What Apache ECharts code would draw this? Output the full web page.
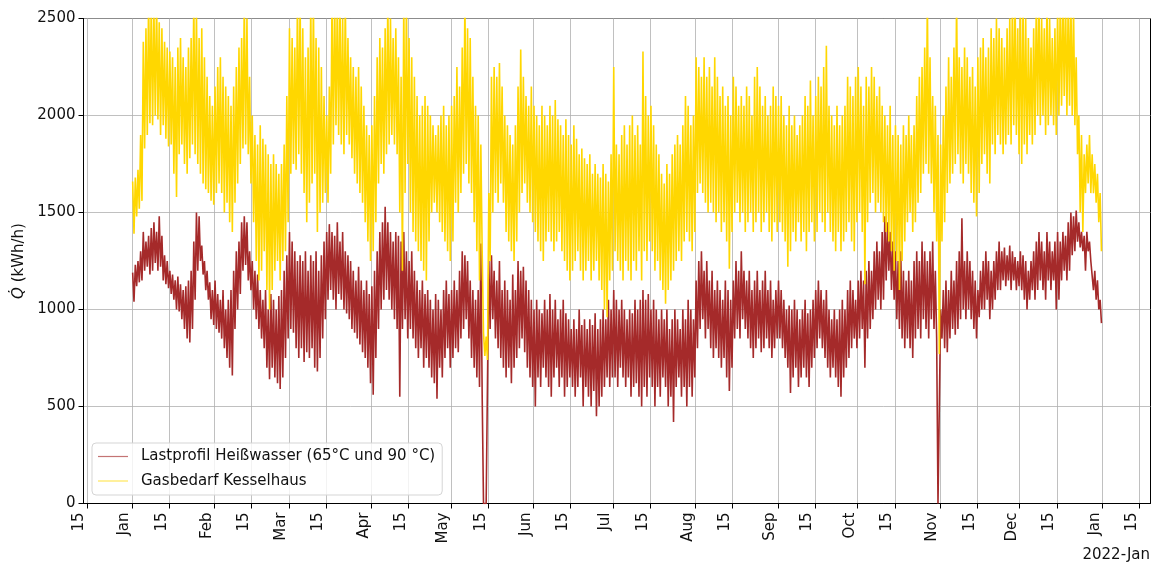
<!DOCTYPE html>
<html><head><meta charset="utf-8">
<script src="https://cdn.jsdelivr.net/npm/echarts@6/dist/echarts.min.js"></script>
<style>html,body{margin:0;padding:0;background:#fff}#c{width:1156px;height:565px}</style>
</head><body><div id="c"></div>
<script>
// ---- data: one high and one low value per day of 2022 ----
const year = 2022;
const redName = 'Lastprofil Heißwasser (65°C und 90 °C)';
const gasName = 'Gasbedarf Kesselhaus';
const monthNames = ['Jan','Feb','Mar','Apr','May','Jun','Jul','Aug','Sep','Oct','Nov','Dec'];
const tickDates = ['2021-12-15','2022-01-01','2022-01-15','2022-02-01','2022-02-15','2022-03-01','2022-03-15',
  '2022-04-01','2022-04-15','2022-05-01','2022-05-15','2022-06-01','2022-06-15','2022-07-01','2022-07-15',
  '2022-08-01','2022-08-15','2022-09-01','2022-09-15','2022-10-01','2022-10-15','2022-11-01','2022-11-15',
  '2022-12-01','2022-12-15','2023-01-01','2023-01-15'];
const yTicks = [0,500,1000,1500,2000,2500];
const offsetLabel = '2022-Jan';

const gasHigh = [
 1660,1680,1720,1900,2380,2450,2600,2600,2550,2600,2480,2450,2380,2350,2330,2300,2250,2350,2400,2300,2250,2350,2400,2600,2550,2400,2450,2300,2200,2100,2050,
 2150,2250,2300,2200,2150,2100,2050,2150,2250,2350,2400,2600,2500,2200,2000,1900,1850,1950,1880,1850,1800,1750,1800,1750,1700,1750,1850,2100,
 2450,2400,2350,2600,2600,2450,2300,2350,2600,2600,2400,2350,2250,2100,2000,2150,2600,2600,2600,2600,2500,2600,2400,2300,2250,2200,2250,2150,2050,1950,1900,
 1950,2100,2300,2400,2350,2450,2600,2500,2400,2450,2300,2200,2600,2600,2400,2300,2200,2100,2000,2050,2100,2050,2000,1950,1900,1950,2000,2050,1950,2000,
 2050,2100,2250,2150,2350,2600,2450,2400,2200,2050,2000,1850,880,860,1600,2200,2250,2200,2270,2150,2000,1950,1900,1850,1950,2150,2340,2200,2100,2050,2150,
 2050,2000,1950,2050,2000,1950,2050,2000,2080,1980,1950,1900,1980,1900,1850,1950,1880,1800,1830,1780,1750,1800,1700,1750,1700,1680,1750,1700,1660,1800,
 2250,1850,1800,1900,1950,1850,1950,2000,1900,1950,1850,2330,2100,2000,2050,1950,1850,1800,1700,1650,1750,1700,1800,1850,1900,1850,1950,2100,2050,1950,2000,
 2300,2250,2200,2300,2200,2250,2150,2300,2200,2100,2150,2050,2100,2000,2200,2150,2050,2100,2050,2150,2100,2000,2200,2250,2150,2050,2100,2000,2050,2150,2100,
 2050,2100,2000,1950,2050,1950,2000,1900,1950,2000,2100,2050,2180,2000,2100,2200,2150,2250,2360,2050,2000,1950,2050,1950,2000,2050,2200,2150,2100,2200,
 2250,2150,2050,2200,2150,2250,2200,2100,2150,2050,2000,1950,2050,1900,1950,1900,1850,1950,1900,2000,1900,1950,2100,2200,2250,2350,2600,2300,2100,2050,1900,
 1850,2000,2150,2300,2200,2350,2600,2300,2250,2350,2300,2200,2250,2150,2300,2350,2400,2300,2350,2450,2400,2500,2450,2400,2350,2450,2500,2600,2600,2450,
 2600,2600,2500,2400,2350,2450,2600,2600,2500,2450,2600,2500,2400,2450,2550,2600,2600,2600,2600,2600,2550,2300,2000,1900,1800,1850,1900,1800,1750,1700,1600
];
const gasLow = [
 1390,1480,1520,1560,1830,1900,1960,1950,2000,1980,1900,1950,1880,1840,1850,1700,1580,1800,1850,1750,1700,1780,1850,1800,1750,1700,1650,1620,1600,1560,1540,
 1600,1650,1600,1500,1550,1450,1400,1550,1650,1750,1830,1850,1800,1650,1450,1250,1150,1200,1300,1100,1000,1100,1200,1250,1150,1250,1300,1450,
 1700,1750,1720,1800,1700,1600,1450,1550,1650,1700,1400,1500,1550,1600,1550,1700,1850,1950,1900,1850,1800,1900,1850,1780,1700,1650,1600,1550,1450,1350,1250,
 1300,1450,1650,1750,1700,1800,1850,1900,1850,1800,1500,1200,1600,1750,1500,1400,1350,1300,1250,1200,1150,1350,1500,1550,1500,1450,1400,1350,1300,1250,
 1350,1550,1500,1600,1700,1750,1650,1600,1450,1300,1150,1300,760,740,1250,1500,1600,1550,1650,1550,1400,1350,1300,1250,1350,1500,1600,1650,1550,1500,1450,
 1400,1350,1300,1250,1350,1400,1350,1300,1350,1400,1300,1250,1200,1150,1200,1250,1300,1200,1150,1200,1250,1150,1200,1250,1150,1100,1000,960,1150,1200,
 1300,1250,1200,1150,1250,1200,1150,1250,1200,1300,1150,1300,1250,1350,1300,1200,1250,1150,1100,1030,1100,1150,1200,1250,1300,1250,1350,1400,1350,1300,1400,
 1600,1650,1600,1550,1500,1550,1500,1450,1500,1400,1450,1350,1210,1400,1500,1550,1450,1500,1400,1450,1500,1400,1450,1500,1400,1450,1500,1400,1350,1450,1400,
 1450,1400,1350,1220,1300,1400,1350,1450,1350,1400,1300,1400,1450,1350,1400,1500,1450,1400,1500,1400,1350,1300,1400,1300,1350,1400,1450,1350,1300,1450,
 1500,1400,1130,1450,1550,1600,1500,1550,1500,1450,1400,1350,1300,1200,1250,1100,1250,1350,1450,1500,1400,1450,1550,1600,1700,1750,1700,1650,1500,1350,770,
 1350,1450,1600,1650,1700,1750,1800,1700,1650,1750,1700,1600,1550,1480,1600,1750,1800,1700,1650,1850,1800,1900,1850,1800,1850,1900,1850,1950,1900,1800,
 1750,1850,1800,1900,1850,1900,2000,1950,2000,1900,1950,2000,1950,1900,2000,2050,2100,2000,2050,2000,1950,1800,1500,1400,1600,1650,1600,1600,1550,1450,1300
];
const redHigh = [
 1190,1230,1250,1300,1400,1350,1380,1420,1450,1400,1480,1380,1280,1250,1200,1180,1150,1170,1130,1100,1120,1150,1200,1350,1500,1480,1330,1250,1200,1140,1100,
 1150,1080,1050,1100,1000,1050,1100,1200,1300,1350,1450,1480,1450,1300,1250,1200,1180,1100,1050,1100,1000,1080,1050,1000,1070,1100,1200,1280,
 1400,1350,1300,1250,1280,1250,1300,1200,1280,1250,1300,1200,1280,1350,1400,1440,1400,1380,1450,1350,1400,1300,1280,1250,1200,1150,1220,1150,1100,1150,1080,
 1120,1200,1300,1400,1450,1530,1450,1400,1350,1400,1380,1350,1400,1300,1250,1300,1200,1150,1100,1150,1080,1100,1050,1000,1080,1050,1000,1100,1150,1080,
 1100,1150,1100,1200,1300,1280,1250,1150,1100,1050,1100,1340,0,0,1250,1280,1200,1150,1250,1100,1150,1100,1050,1180,1100,1250,1200,1220,1150,1100,1050,
 1000,1050,1000,980,1050,1000,1080,1000,1050,950,1000,1050,980,950,900,950,900,1000,920,950,900,950,920,980,900,950,1000,950,1050,1000,
 1100,1050,1000,1050,1000,950,1000,980,1050,1000,1050,1100,1050,1080,1000,1050,1000,950,1000,950,1000,900,950,1000,950,900,1000,950,1050,1000,950,
 1150,1250,1300,1200,1250,1150,1200,1100,1150,1100,1050,1150,1100,1050,1150,1250,1200,1300,1200,1150,1200,1100,1150,1200,1100,1150,1200,1100,1150,1050,1100,
 1150,1100,1050,1000,1020,1000,1050,1000,950,1000,1050,980,1000,1050,1100,1150,1100,1050,1100,1000,950,1000,950,1000,1050,1000,1100,1150,1100,1050,
 1150,1200,1150,1200,1250,1200,1300,1350,1300,1400,1480,1450,1400,1350,1300,1250,1300,1200,1150,1200,1150,1250,1300,1250,1350,1300,1250,1300,1350,1200,0,
 1000,1100,1150,1100,1200,1150,1250,1300,1470,1250,1300,1250,1200,1150,1100,1200,1250,1300,1250,1200,1250,1300,1350,1300,1320,1280,1330,1300,1270,1250,
 1300,1280,1250,1200,1250,1300,1350,1400,1350,1300,1400,1350,1300,1350,1400,1350,1400,1380,1450,1500,1480,1510,1450,1400,1380,1400,1350,1250,1200,1150,1050
];
const redLow = [
 1040,1120,1140,1150,1200,1220,1180,1200,1240,1200,1220,1150,1130,1110,1080,1050,1000,990,950,900,850,830,900,1050,1200,1250,1180,1100,1050,950,920,
 900,880,850,800,750,700,660,900,1000,1080,1200,1230,1150,1100,1000,950,900,850,800,700,640,700,650,620,590,650,750,850,
 900,880,800,750,800,730,780,750,800,700,680,750,850,950,1050,1100,1050,1000,1080,1050,1000,980,950,900,880,850,820,780,750,700,620,
 560,750,900,1000,1050,1100,1050,1000,950,900,550,900,950,850,900,850,800,750,800,700,750,700,650,620,540,700,650,750,800,700,
 750,800,780,850,900,950,850,750,700,650,600,560,0,0,900,950,850,800,750,700,650,700,620,700,750,800,850,780,700,650,600,
 500,650,600,700,650,600,550,650,700,600,650,550,600,650,600,550,600,650,500,600,550,500,580,450,500,550,600,650,600,650,
 650,600,700,650,600,650,550,600,620,550,500,600,550,650,600,500,600,550,650,600,500,550,420,600,650,550,600,500,600,550,650,
 800,900,950,850,900,800,750,800,750,700,750,650,580,700,850,900,850,950,900,850,800,750,800,850,780,800,850,800,750,800,850,
 850,800,750,700,570,650,700,600,650,700,650,600,700,750,800,850,800,750,700,650,700,650,600,550,650,700,750,800,850,800,
 850,900,700,850,900,950,1000,1050,1000,1050,1150,1200,1100,1050,950,900,850,800,850,800,750,850,900,850,950,900,850,950,900,850,0,
 850,800,780,850,900,870,900,950,1000,950,1000,950,900,850,960,1000,1000,1050,950,1000,1050,1100,1100,1150,1120,1150,1100,1150,1100,1120,
 1100,1050,1000,1050,1100,1050,1100,1150,1100,1050,1150,1100,1150,1000,1050,1150,1200,1150,1200,1280,1300,1350,1320,1300,1200,1300,1250,1100,1050,1000,930
];

// ---- build series from the arrays ----
const DAY = 86400000, HOUR = 3600000;
const t0 = Date.UTC(year, 0, 1);
function build(hi, lo) {
  const out = [];
  for (let i = 0; i < hi.length; i++) {
    out.push([t0 + i * DAY + 6 * HOUR, hi[i]]);
    out.push([t0 + i * DAY + 18 * HOUR, lo[i]]);
  }
  return out;
}
const redData = build(redHigh, redLow);
const gasData = build(gasHigh, gasLow);
const dataStart = t0, dataEnd = t0 + 365 * DAY - HOUR;
const pad = (dataEnd - dataStart) * 0.05;
const tickTimes = tickDates.map(s => Date.parse(s + 'T00:00:00Z'));

const font = 'DejaVu Sans';
const chart = echarts.init(document.getElementById('c'), null, {renderer: 'canvas'});
chart.setOption({
  animation: false,
  backgroundColor: '#fff',
  textStyle: {fontFamily: font},
  grid: {left: 83.5, right: 5.5, top: 18.5, bottom: 61.5, show: true, borderColor: '#000', borderWidth: 1, backgroundColor: 'transparent'},
  xAxis: {
    type: 'value', min: dataStart - pad, max: dataEnd + pad, scale: true,
    axisLine: {show: true, onZero: false, lineStyle: {color: '#000', width: 1}},
    axisTick: {show: true, customValues: tickTimes, length: 5, lineStyle: {color: '#000', width: 1}},
    axisLabel: {customValues: tickTimes, rotate: 90, margin: 9, fontSize: 15, color: '#111', fontFamily: font,
      verticalAlign: 'bottom',
      formatter: v => { const d = new Date(v); return d.getUTCDate() === 1 ? monthNames[d.getUTCMonth()] : String(d.getUTCDate()); }},
    splitLine: {show: true, lineStyle: {color: '#b0b0b0', width: 0.8}}
  },
  yAxis: {
    type: 'value', min: yTicks[0], max: yTicks[yTicks.length - 1], interval: 500,
    name: '{q|Q\u0307} (kWh/h)', nameLocation: 'middle', nameGap: 25,
    nameTextStyle: {fontSize: 15, color: '#111', fontFamily: font, rich: {q: {fontStyle: 'italic', fontSize: 15, fontFamily: font, color: '#111'}}},
    axisLine: {show: true, lineStyle: {color: '#000', width: 1}},
    axisTick: {show: true, length: 5, lineStyle: {color: '#000', width: 1}},
    axisLabel: {margin: 8, fontSize: 15, color: '#111', fontFamily: font, formatter: v => String(v)},
    splitLine: {show: true, lineStyle: {color: '#b0b0b0', width: 0.8}}
  },
  legend: {
    orient: 'vertical', left: 92, top: 443, icon: 'rect', itemWidth: 30, itemHeight: 1.2, itemGap: 8.5,
    padding: [5.5, 7, 6, 6], borderColor: '#d5d5d5', borderWidth: 1, borderRadius: 4,
    backgroundColor: 'rgba(255,255,255,0.8)',
    itemStyle: {opacity: 0.65},
    textStyle: {fontSize: 15, color: '#111', fontFamily: font, lineHeight: 16, padding: [0, 0, 0, 8]},
    data: [redName, gasName]
  },
  graphic: [{type: 'text', right: 6, top: 548, style: {text: offsetLabel, font: '15px "DejaVu Sans"', fill: '#111'}}],
  series: [
    {name: redName, type: 'line', data: redData, symbol: 'none', showSymbol: false, z: 2,
     lineStyle: {width: 1.6, color: '#a52a2a'}, itemStyle: {color: '#a52a2a'}},
    {name: gasName, type: 'line', data: gasData, symbol: 'none', showSymbol: false, z: 3,
     lineStyle: {width: 1.6, color: '#ffd700'}, itemStyle: {color: '#ffd700'}}
  ]
});
</script></body></html>
